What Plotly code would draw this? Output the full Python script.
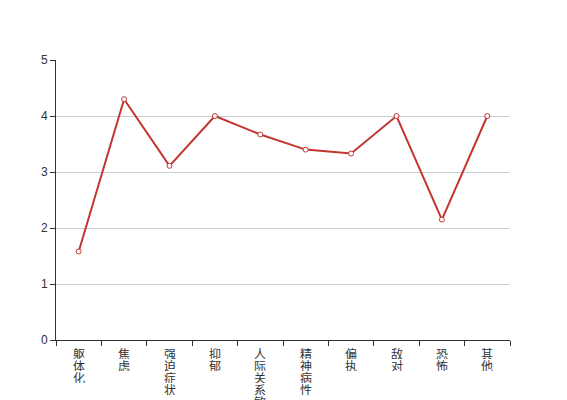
import plotly.graph_objects as go

categories = ["躯体化", "焦虑", "强迫症状", "抑郁", "人际关系敏感", "精神病性", "偏执", "敌对", "恐怖", "其他"]
values = [1.58, 4.30, 3.11, 4.00, 3.67, 3.40, 3.33, 4.00, 2.15, 4.00]
y_ticks = [0, 1, 2, 3, 4, 5]

fig = go.Figure()
fig.add_trace(go.Scatter(
    x=categories, y=values, mode="lines+markers",
    line=dict(color="#c23531", width=2),
    marker=dict(symbol="circle", size=5, color="#ffffff",
                line=dict(color="#c23531", width=1)),
    hoverinfo="skip",
))

# vertical category labels: one character per row
for cat in categories:
    for i, ch in enumerate(cat):
        fig.add_annotation(
            x=cat, xref="x", y=0, yref="paper", yanchor="top",
            yshift=-(6 + 12 * i), text=ch, showarrow=False, height=12,
            font=dict(size=12, color="#333333", family="Noto Sans CJK SC, sans-serif"),
            borderpad=0,
        )

# page body has an 8px margin, so the figure is made 8px smaller
fig.update_layout(
    width=559, height=392,
    margin=dict(l=48, r=57, t=52, b=60),
    paper_bgcolor="#ffffff", plot_bgcolor="#ffffff",
    showlegend=False,
    font=dict(family="Noto Sans CJK SC, sans-serif", color="#333333", size=12),
)
fig.update_xaxes(
    type="category", tickmode="array", tickvals=categories, ticktext=[""] * len(categories),
    tickson="boundaries", ticks="outside", ticklen=5, tickcolor="#333333",
    showline=True, linecolor="#333333", linewidth=1,
    showgrid=False, range=[-0.5, len(categories) - 0.5], automargin=False,
)
fig.update_yaxes(
    range=[0, 5], tickvals=y_ticks, ticks="outside", ticklen=5, tickcolor="#333333",
    showline=True, linecolor="#333333", linewidth=1,
    showgrid=True, gridcolor="#cccccc", gridwidth=1, zeroline=False, automargin=False,
    tickfont=dict(size=12, color="#333333", family="Liberation Sans, Arial, sans-serif"),
)

fig.write_html("out.html")
